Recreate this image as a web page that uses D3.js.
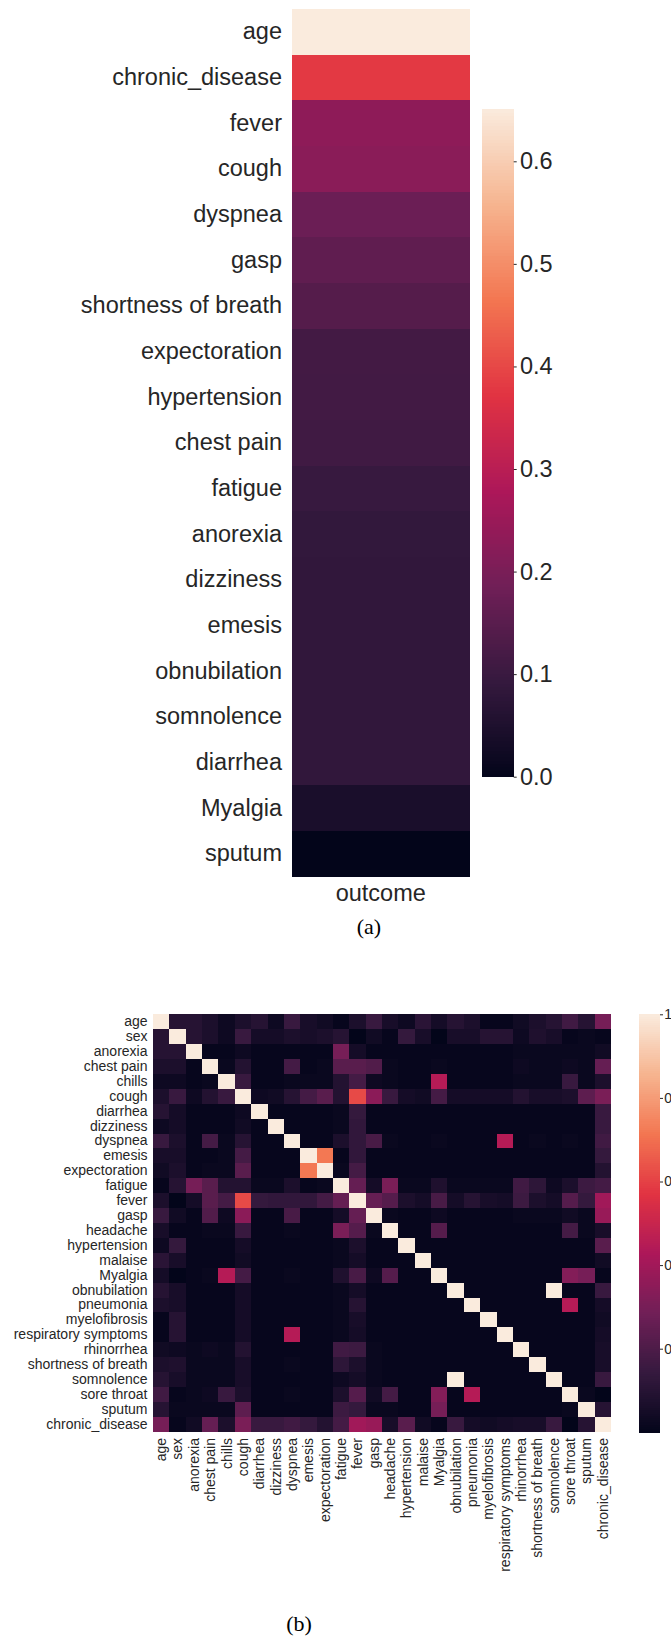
<!DOCTYPE html>
<html>
<head>
<meta charset="utf-8">
<title>outcome correlation heatmaps</title>
<script src="https://cdn.jsdelivr.net/npm/d3@7"></script>
<style>
  html, body { margin: 0; padding: 0; background: #fff; overflow: hidden; }
  svg { display: block; }
  text { fill: #262626; font-family: "Liberation Sans", Arial, sans-serif; }
  text.caption { fill: #000; font-family: "Liberation Serif", "Times New Roman", serif; }
  rect.cell, rect.band { shape-rendering: crispEdges; }
</style>
</head>
<body>
<svg id="chart" width="671" height="1636"></svg>
<script>
// (a) correlation of each feature with the outcome
var outcomeLabels = ['age', 'chronic_disease', 'fever', 'cough', 'dyspnea', 'gasp',
  'shortness of breath', 'expectoration', 'hypertension', 'chest pain', 'fatigue',
  'anorexia', 'dizziness', 'emesis', 'obnubilation', 'somnolence', 'diarrhea',
  'Myalgia', 'sputum'];
var outcomeValues = [0.651, 0.38, 0.232, 0.226, 0.178, 0.160,
  0.143, 0.115, 0.114, 0.111, 0.096,
  0.087, 0.086, 0.086, 0.086, 0.086, 0.085,
  0.043, 0.0];
var outcomeTicks = [0, 0.1, 0.2, 0.3, 0.4, 0.5, 0.6];

// (b) feature-feature correlation matrix
var featureLabels = ['age', 'sex', 'anorexia', 'chest pain', 'chills', 'cough', 'diarrhea',
  'dizziness', 'dyspnea', 'emesis', 'expectoration', 'fatigue', 'fever', 'gasp',
  'headache', 'hypertension', 'malaise', 'Myalgia', 'obnubilation', 'pneumonia',
  'myelofibrosis', 'respiratory symptoms', 'rhinorrhea', 'shortness of breath',
  'somnolence', 'sore throat', 'sputum', 'chronic_disease'];
var corrMatrix = [
  [1, .10, .10, .07, .03, .07, .10, .03, .15, .06, .04, .01, .07, .15, .06, .03, .11, .05, .10, .07, .01, .01, .04, .07, .10, .17, .10, .30],
  [.10, 1, .10, .07, .03, .15, .05, .05, .07, .06, .07, .10, .00, .04, .01, .14, .06, .00, .06, .06, .10, .10, .03, .08, .06, .01, .02, .01],
  [.10, .10, 1, .01, .01, .03, .01, .01, .01, .01, .01, .30, .05, .01, .01, .01, .01, .01, .01, .01, .01, .01, .02, .02, .02, .02, .02, .04],
  [.07, .07, .01, 1, .02, .09, .01, .01, .18, .01, .02, .23, .23, .21, .02, .01, .01, .02, .01, .01, .01, .01, .03, .02, .02, .03, .02, .26],
  [.03, .03, .01, .02, 1, .15, .01, .01, .02, .02, .02, .09, .18, .03, .02, .01, .01, .45, .01, .01, .01, .01, .02, .02, .02, .15, .02, .07],
  [.07, .15, .03, .09, .15, 1, .03, .04, .10, .18, .23, .09, .62, .35, .15, .05, .04, .18, .05, .05, .05, .05, .09, .06, .06, .07, .24, .31],
  [.10, .05, .01, .01, .01, .03, 1, .01, .01, .01, .01, .02, .14, .01, .01, .01, .01, .01, .01, .01, .01, .01, .01, .01, .01, .01, .01, .15],
  [.03, .05, .01, .01, .01, .04, .01, 1, .01, .01, .01, .02, .13, .01, .01, .01, .01, .01, .01, .01, .01, .01, .01, .01, .01, .01, .01, .15],
  [.15, .07, .01, .18, .02, .10, .01, .01, 1, .01, .01, .07, .13, .19, .02, .01, .01, .02, .01, .01, .01, .45, .01, .02, .01, .02, .01, .17],
  [.06, .06, .01, .01, .02, .18, .01, .01, .01, 1, .72, .01, .13, .01, .01, .01, .01, .01, .01, .01, .01, .01, .01, .01, .01, .01, .01, .14],
  [.04, .07, .01, .02, .02, .23, .01, .01, .01, .72, 1, .02, .18, .01, .01, .01, .01, .01, .01, .01, .01, .01, .01, .01, .01, .01, .01, .09],
  [.01, .10, .30, .23, .09, .09, .02, .02, .07, .01, .02, 1, .26, .05, .31, .02, .02, .08, .02, .02, .02, .02, .17, .12, .03, .07, .16, .18],
  [.07, .00, .05, .23, .18, .62, .14, .13, .13, .13, .18, .26, 1, .26, .22, .07, .05, .19, .05, .10, .06, .05, .16, .07, .05, .22, .14, .40],
  [.15, .04, .01, .21, .03, .35, .01, .01, .19, .01, .01, .05, .26, 1, .02, .01, .01, .03, .01, .01, .01, .01, .02, .02, .02, .04, .02, .38],
  [.06, .01, .01, .02, .02, .15, .01, .01, .02, .01, .01, .31, .22, .02, 1, .01, .01, .22, .01, .01, .01, .01, .01, .01, .01, .18, .02, .06],
  [.03, .14, .01, .01, .01, .05, .01, .01, .01, .01, .01, .02, .07, .01, .01, 1, .01, .01, .01, .01, .01, .01, .01, .01, .01, .01, .01, .23],
  [.11, .06, .01, .01, .01, .04, .01, .01, .01, .01, .01, .02, .05, .01, .01, .01, 1, .01, .01, .01, .01, .01, .01, .01, .01, .01, .01, .04],
  [.05, .00, .01, .02, .45, .18, .01, .01, .02, .01, .01, .08, .19, .03, .22, .01, .01, 1, .01, .01, .01, .01, .01, .01, .01, .33, .30, .01],
  [.10, .06, .01, .01, .01, .05, .01, .01, .01, .01, .01, .02, .05, .01, .01, .01, .01, .01, 1, .01, .01, .01, .01, .01, 1, .01, .01, .15],
  [.07, .06, .01, .01, .01, .05, .01, .01, .01, .01, .01, .02, .10, .01, .01, .01, .01, .01, .01, 1, .01, .01, .01, .01, .01, .45, .01, .05],
  [.01, .10, .01, .01, .01, .05, .01, .01, .01, .01, .01, .02, .06, .01, .01, .01, .01, .01, .01, .01, 1, .01, .01, .01, .01, .01, .01, .04],
  [.01, .10, .01, .01, .01, .05, .01, .01, .45, .01, .01, .02, .05, .01, .01, .01, .01, .01, .01, .01, .01, 1, .01, .01, .01, .01, .01, .05],
  [.04, .03, .02, .03, .02, .09, .01, .01, .01, .01, .01, .17, .16, .02, .01, .01, .01, .01, .01, .01, .01, .01, 1, .01, .01, .01, .01, .06],
  [.07, .08, .02, .02, .02, .06, .01, .01, .02, .01, .01, .12, .07, .02, .01, .01, .01, .01, .01, .01, .01, .01, .01, 1, .01, .01, .01, .06],
  [.10, .06, .02, .02, .02, .06, .01, .01, .01, .01, .01, .03, .05, .02, .01, .01, .01, .01, 1, .01, .01, .01, .01, .01, 1, .01, .01, .15],
  [.17, .01, .02, .03, .15, .07, .01, .01, .02, .01, .01, .07, .22, .04, .18, .01, .01, .33, .01, .45, .01, .01, .01, .01, .01, 1, .02, .00],
  [.10, .02, .02, .02, .02, .24, .01, .01, .01, .01, .01, .16, .14, .02, .02, .01, .01, .30, .01, .01, .01, .01, .01, .01, .01, .02, 1, .10],
  [.30, .01, .04, .26, .07, .31, .15, .15, .17, .14, .09, .18, .40, .38, .06, .23, .04, .01, .15, .05, .04, .05, .06, .06, .15, .00, .10, 1]
];
var corrTicks = [0.2, 0.4, 0.6, 0.8, 1.0];

// seaborn "rocket" colormap, sampled at even steps
var rocketStops = ['#03051a', '#35193e', '#701f57', '#ad1759', '#e13342', '#f37651', '#f6b48f', '#faebdd'];

function rocket(lo, hi) {
  return d3.scaleLinear()
    .domain(rocketStops.map(function (c, i) { return lo + (hi - lo) * i / (rocketStops.length - 1); }))
    .range(rocketStops)
    .interpolate(d3.interpolateRgb)
    .clamp(true);
}

var svg = d3.select('#chart');

// draws a vertical colorbar as thin bands of the colour scale
function colorbar(g, color, scale, x, w) {
  var dom = scale.domain(), n = 200, step = (dom[1] - dom[0]) / n;
  g.selectAll('rect.band').data(d3.range(n)).enter().append('rect')
    .attr('class', 'band')
    .attr('x', x).attr('width', w)
    .attr('y', function (i) { return scale(dom[0] + (i + 1) * step); })
    .attr('height', function (i) { return scale(dom[0] + i * step) - scale(dom[0] + (i + 1) * step) + 0.6; })
    .attr('fill', function (i) { return color(dom[0] + (i + 0.5) * step); });
}

/* ---------- (a) ---------- */
var aMax = d3.max(outcomeValues);
var ax = d3.scaleBand().domain(['outcome']).range([292, 469.5]);
var ay = d3.scaleBand().domain(outcomeLabels).range([9, 876.7]);
var aColor = rocket(0, aMax);
var gA = svg.append('g');

gA.selectAll('rect.cell').data(outcomeLabels).enter().append('rect')
  .attr('class', 'cell')
  .attr('x', ax('outcome')).attr('width', ax.bandwidth())
  .attr('y', function (d) { return ay(d); }).attr('height', ay.bandwidth())
  .attr('fill', function (d, i) { return aColor(outcomeValues[i]); });

gA.append('g').attr('transform', 'translate(292,0)')
  .call(d3.axisLeft(ay).tickSize(0).tickPadding(10))
  .attr('font-size', 23.5)
  .call(function (g) { g.select('.domain').remove(); });

gA.append('g').attr('transform', 'translate(0,876.7)')
  .call(d3.axisBottom(ax).tickSize(0).tickPadding(8))
  .attr('font-size', 23.5)
  .call(function (g) { g.select('.domain').remove(); });

var aBar = d3.scaleLinear().domain([0, aMax]).range([776.7, 109]);
colorbar(gA.append('g'), aColor, aBar, 481.6, 32.1);
gA.append('g').attr('transform', 'translate(513.7,0)')
  .call(d3.axisRight(aBar).tickValues(outcomeTicks).tickFormat(d3.format('.1f')).tickSize(3).tickPadding(3.3))
  .attr('font-size', 23.5)
  .call(function (g) {
    g.select('.domain').remove();
    g.selectAll('.tick line').attr('stroke', '#262626');
  });

svg.append('text').attr('class', 'caption')
  .attr('x', 369).attr('y', 934).attr('text-anchor', 'middle')
  .attr('font-size', 22).text('(a)');

/* ---------- (b) ---------- */
var bx = d3.scaleBand().domain(featureLabels).range([153, 611]);
var by = d3.scaleBand().domain(featureLabels).range([1014.3, 1431.7]);
var bMin = d3.min(corrMatrix, function (r) { return d3.min(r); });
var bMax = d3.max(corrMatrix, function (r) { return d3.max(r); });
var bColor = rocket(bMin, bMax);
var gB = svg.append('g');

var cells = [];
corrMatrix.forEach(function (row, i) {
  row.forEach(function (v, j) { cells.push({ r: featureLabels[i], c: featureLabels[j], v: v }); });
});

gB.selectAll('rect.cell').data(cells).enter().append('rect')
  .attr('class', 'cell')
  .attr('x', function (d) { return bx(d.c); }).attr('width', bx.bandwidth())
  .attr('y', function (d) { return by(d.r); }).attr('height', by.bandwidth())
  .attr('fill', function (d) { return bColor(d.v); });

gB.append('g').attr('transform', 'translate(153,0)')
  .call(d3.axisLeft(by).tickSize(0).tickPadding(5.5))
  .attr('font-size', 14)
  .call(function (g) { g.select('.domain').remove(); });

gB.append('g').attr('transform', 'translate(0,1431.7)')
  .call(d3.axisBottom(bx).tickSize(0))
  .attr('font-size', 14)
  .call(function (g) {
    g.select('.domain').remove();
    g.selectAll('text')
      .attr('y', 0).attr('x', -6.3).attr('dy', '0.35em')
      .attr('transform', 'rotate(-90)')
      .attr('text-anchor', 'end');
  });

// colorbar sits at the right edge of the figure; its labels run off the page as in the original
var bBar = d3.scaleLinear().domain([bMin, bMax]).range([1432.3, 1014.3]);
colorbar(gB.append('g'), bColor, bBar, 639, 21);
gB.append('g').attr('transform', 'translate(660,0)')
  .call(d3.axisRight(bBar).tickValues(corrTicks).tickFormat(d3.format('.1f')).tickSize(3).tickPadding(1.3))
  .attr('font-size', 14)
  .call(function (g) {
    g.select('.domain').remove();
    g.selectAll('.tick line').attr('stroke', '#262626');
  });

svg.append('text').attr('class', 'caption')
  .attr('x', 299).attr('y', 1631).attr('text-anchor', 'middle')
  .attr('font-size', 22).text('(b)');
</script>
</body>
</html>
